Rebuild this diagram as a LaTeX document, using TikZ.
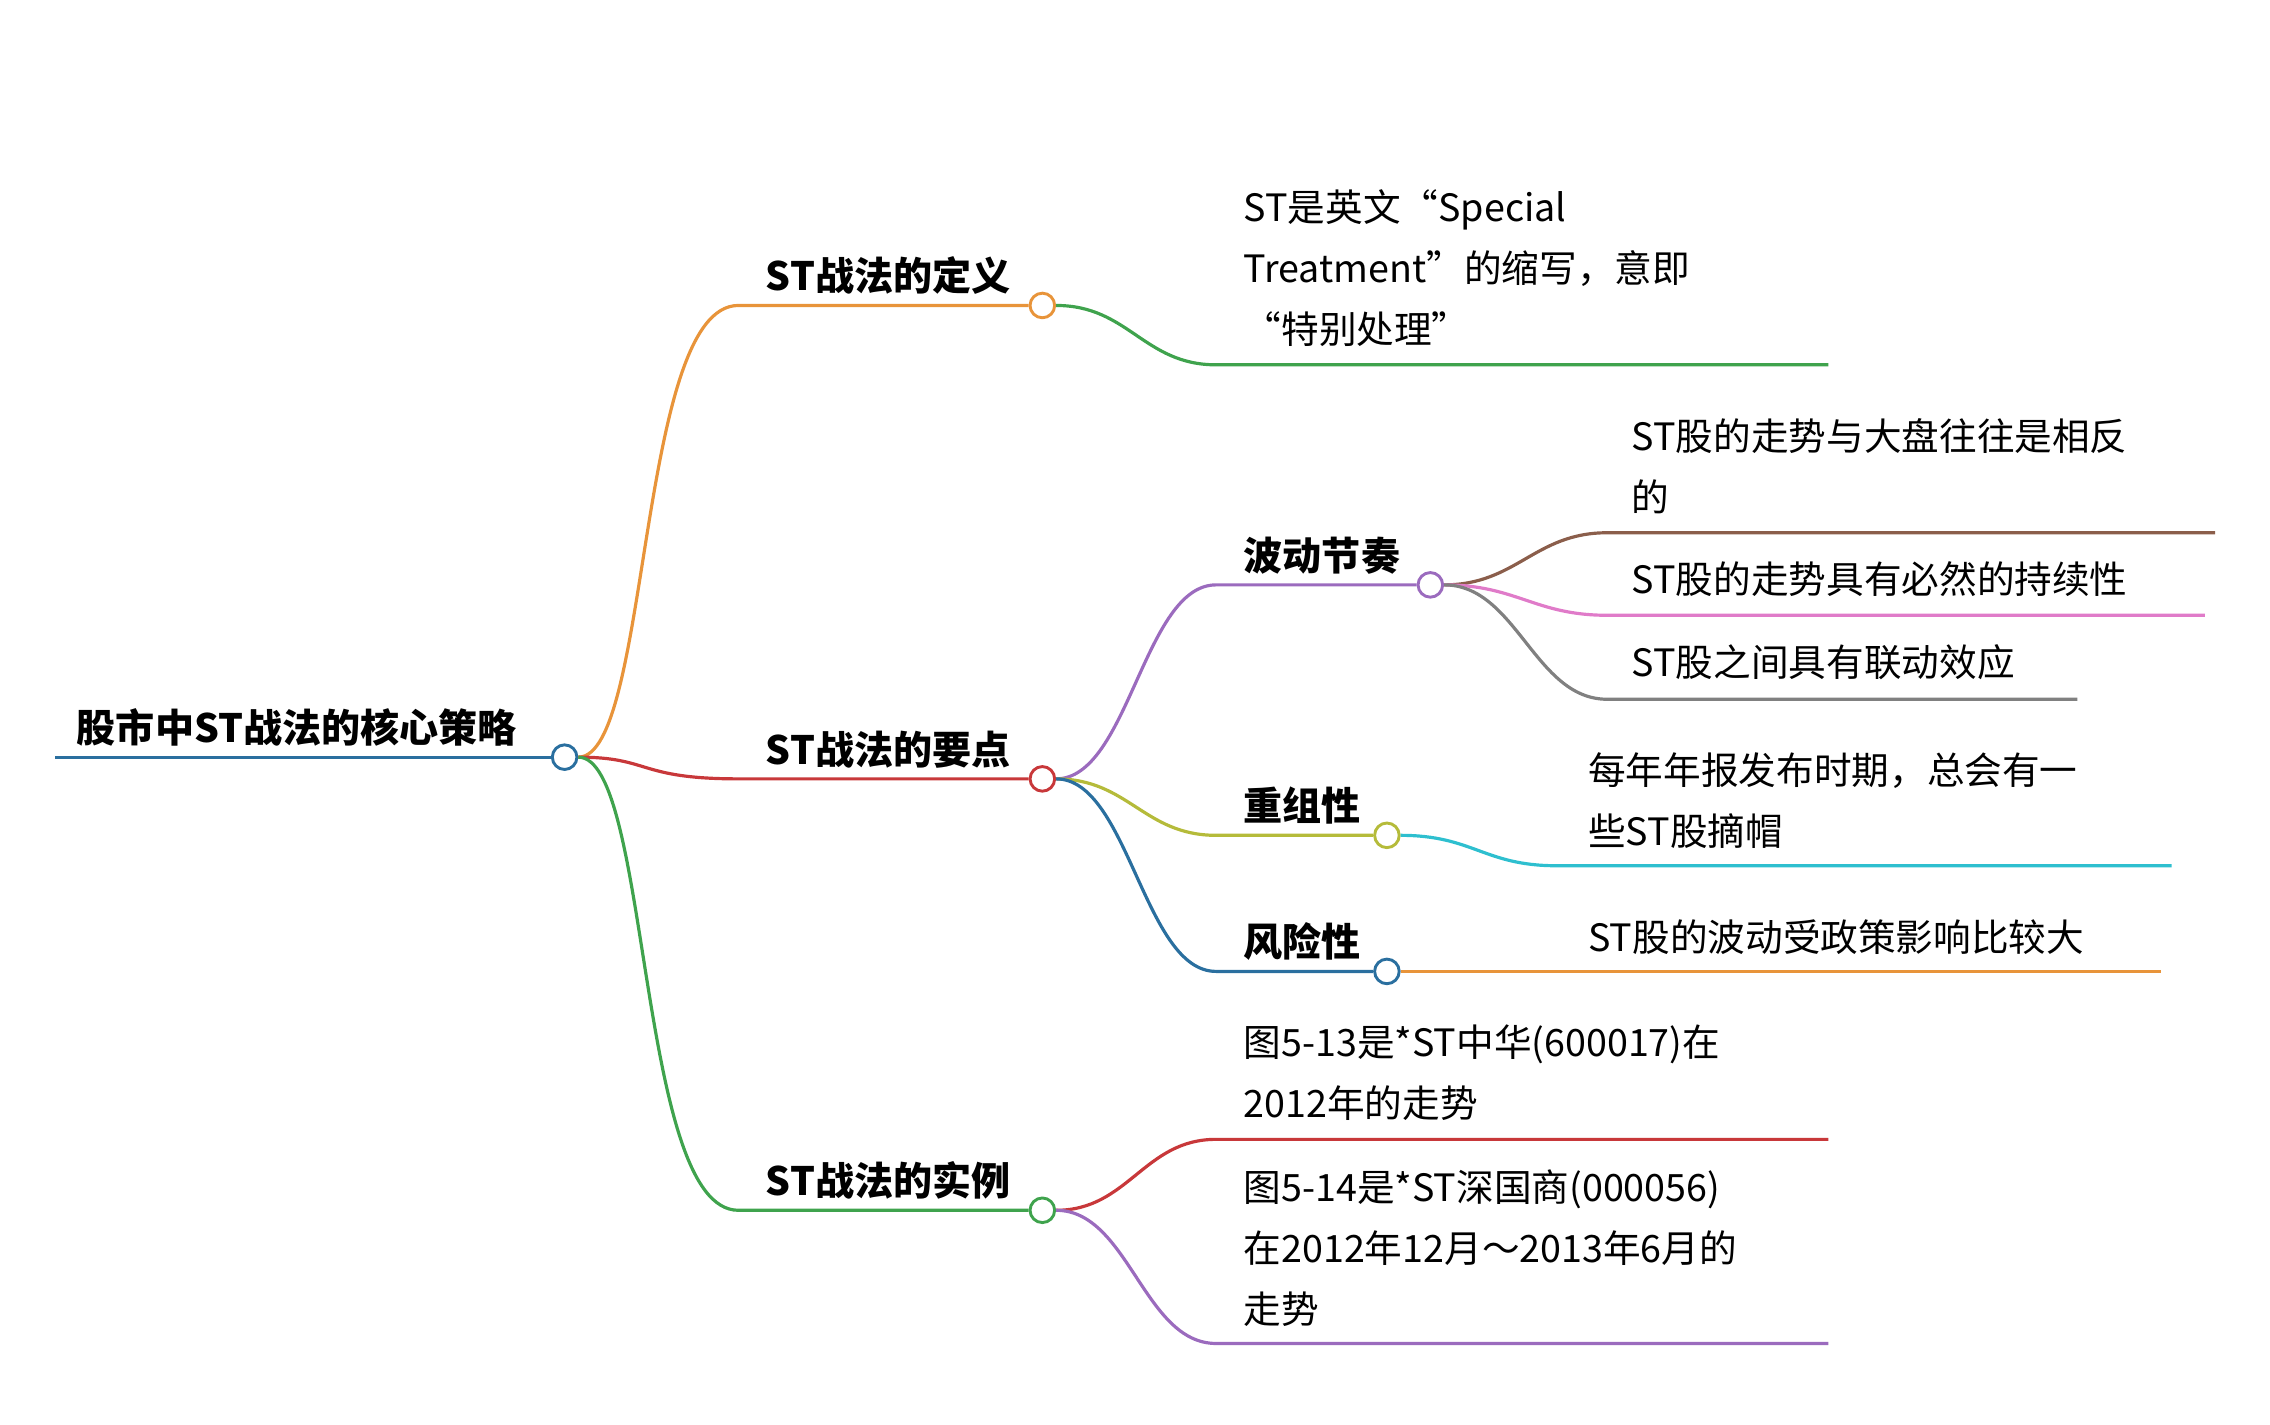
\documentclass[tikz,border=0pt]{standalone}
\usepackage{fontspec}
\setmainfont{Noto Sans CJK SC}
\begin{document}
\begin{tikzpicture}[x=1pt,y=-1pt,line width=2.2pt,
  dot/.style={circle,draw,fill=white,minimum size=17pt,inner sep=0pt,line width=2pt},
  lbl/.style={font=\fontsize{27}{42}\selectfont\bfseries,anchor=base west,inner sep=0pt},
  txt/.style={font=\fontsize{26}{42}\selectfont,anchor=north west,inner sep=0pt,align=left}]
\definecolor{cOr}{HTML}{E8943A}\definecolor{cRe}{HTML}{C8383A}\definecolor{cGr}{HTML}{3FA34D}
\definecolor{cBl}{HTML}{2A6F9F}\definecolor{cPu}{HTML}{9B6BBE}\definecolor{cYg}{HTML}{B5BB3A}
\definecolor{cCy}{HTML}{2EBFCF}\definecolor{cBr}{HTML}{8B5E4B}\definecolor{cPi}{HTML}{E07BC9}
\definecolor{cGy}{HTML}{808080}
\useasboundingbox (0,0) rectangle (1568,984);
% root
\coordinate (r0) at (38,523);
\node[dot,draw=cBl] (r) at (390,523) {};
\node[lbl] (rt) at (52,513) {股市中ST战法的核心策略};
% level 1
\coordinate (a0) at (510,211); \coordinate (b0) at (510,538); \coordinate (c0) at (510,836);
\node[dot,draw=cOr] (a) at (720,211) {};
\node[dot,draw=cRe] (b) at (720,538) {};
\node[dot,draw=cGr] (c) at (720,836) {};
\node[lbl] (at) at (528,201) {ST战法的定义};
\node[lbl] (bt) at (528,528) {ST战法的要点};
\node[lbl] (ct) at (528,826) {ST战法的实例};
% level 2
\coordinate (d0) at (840,404); \coordinate (e0) at (840,577); \coordinate (f0) at (840,671);
\node[dot,draw=cPu] (d) at (988,404) {};
\node[dot,draw=cYg] (e) at (958,577) {};
\node[dot,draw=cBl] (f) at (958,671) {};
\node[lbl] (dt) at (858,394) {波动节奏};
\node[lbl] (et) at (858,567) {重组性};
\node[lbl] (ft) at (858,661) {风险性};
% leaves
\coordinate (g0) at (840,252); \coordinate (g1) at (1263,252);
\coordinate (h0) at (1110,368); \coordinate (h1) at (1530,368);
\coordinate (i0) at (1110,425); \coordinate (i1) at (1523,425);
\coordinate (j0) at (1110,483); \coordinate (j1) at (1435,483);
\coordinate (k0) at (1075,598); \coordinate (k1) at (1500,598);
\coordinate (l1) at (1493,671);
\coordinate (m0) at (840,787); \coordinate (m1) at (1263,787);
\coordinate (n0) at (840,928); \coordinate (n1) at (1263,928);
\node[txt] (gt) at (858,130) {ST是英文“Special\\Treatment”的缩写，意即\\“特别处理”};
\node[txt] (ht) at (1126,288) {ST股的走势与大盘往往是相反\\的};
\node[txt] (it) at (1126,387) {ST股的走势具有必然的持续性};
\node[txt] (jt) at (1126,444) {ST股之间具有联动效应};
\node[txt] (kt) at (1096,519) {每年年报发布时期，总会有一\\些ST股摘帽};
\node[txt] (lt) at (1096,634) {ST股的波动受政策影响比较大};
\node[txt] (mt) at (858,707) {图5-13是*ST中华(600017)在\\2012年的走势};
\node[txt] (nt) at (858,807) {图5-14是*ST深国商(000056)\\在2012年12月～2013年6月的\\走势};
% connectors
\draw[cBl] (r0) -- (r.west);
\draw[cOr] (r.east) .. controls +(50,0) and +(-70,0) .. (a0) -- (a.west);
\draw[cRe] (r.east) .. controls +(50,0) and +(-70,0) .. (b0) -- (b.west);
\draw[cGr] (r.east) .. controls +(50,0) and +(-70,0) .. (c0) -- (c.west);
\draw[cGr] (a.east) .. controls +(50,0) and +(-50,0) .. (g0) -- (g1);
\draw[cPu] (b.east) .. controls +(50,0) and +(-50,0) .. (d0) -- (d.west);
\draw[cYg] (b.east) .. controls +(50,0) and +(-50,0) .. (e0) -- (e.west);
\draw[cBl] (b.east) .. controls +(50,0) and +(-50,0) .. (f0) -- (f.west);
\draw[cBr] (d.east) .. controls +(50,0) and +(-50,0) .. (h0) -- (h1);
\draw[cPi] (d.east) .. controls +(50,0) and +(-50,0) .. (i0) -- (i1);
\draw[cGy] (d.east) .. controls +(50,0) and +(-50,0) .. (j0) -- (j1);
\draw[cCy] (e.east) .. controls +(50,0) and +(-50,0) .. (k0) -- (k1);
\draw[cOr] (f.east) -- (l1);
\draw[cRe] (c.east) .. controls +(50,0) and +(-50,0) .. (m0) -- (m1);
\draw[cPu] (c.east) .. controls +(50,0) and +(-50,0) .. (n0) -- (n1);
\end{tikzpicture}
\end{document}
